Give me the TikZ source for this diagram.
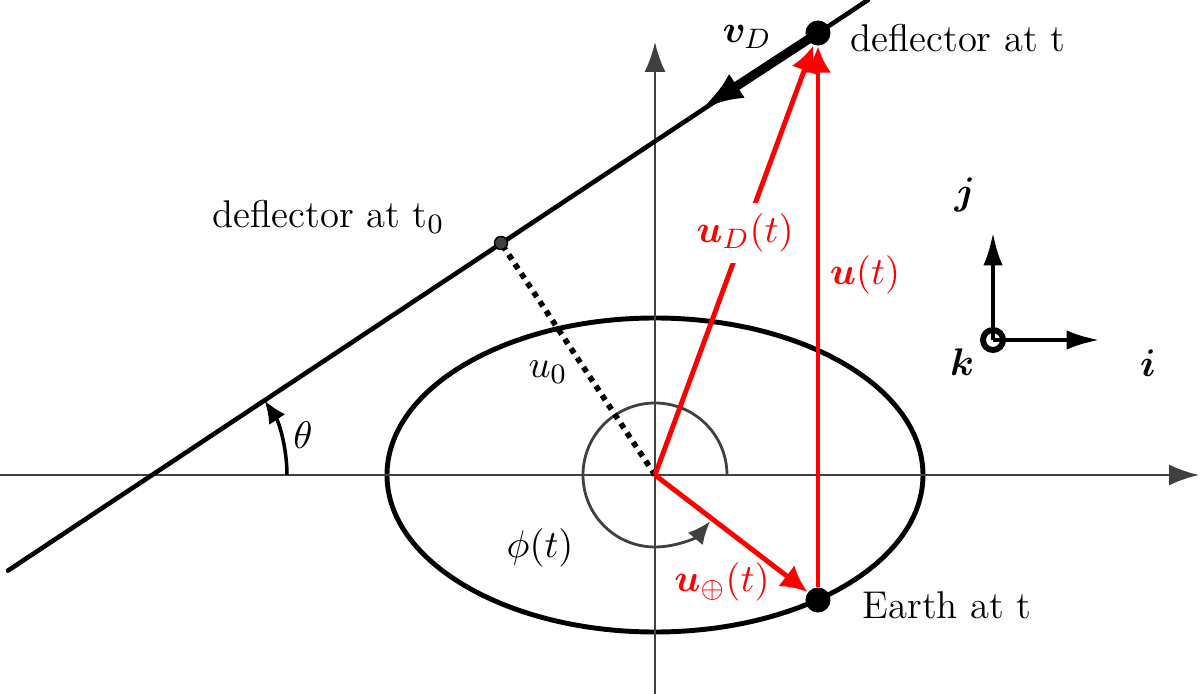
\documentclass[tikz,border=0pt]{standalone}
\usepackage{amsmath,bm}
\usetikzlibrary{arrows.meta,calc}
\definecolor{axisgray}{RGB}{64,64,64}
\definecolor{vred}{RGB}{255,0,0}
\begin{document}
\begin{tikzpicture}[x=0.01cm,y=0.01cm,
  every node/.style={font=\fontsize{11}{13}\selectfont},
  axisline/.style={axisgray,line width=0.8pt,-{Latex[length=8.5pt,width=6pt]}},
  redvec/.style={vred,line width=1.4pt,-{Latex[length=7.5pt,width=7.5pt]}},
  bigdot/.style={circle,fill=black,inner sep=0pt,minimum size=0.25cm},
  framevec/.style={black,line width=1.3pt,-{Latex[length=9.5pt,width=5.5pt]}},
  lbl/.style={inner sep=1pt}]
\useasboundingbox (-655,-219) rectangle (545,475);
% ellipse (orbit)
\draw[line width=1.4pt] (0,0) ellipse [x radius=268, y radius=157];
% axes
\coordinate (O) at (0,0);
\coordinate (xa0) at (-655,0);
\coordinate (xa1) at (544,0);
\coordinate (ya0) at (0,-219);
\coordinate (ya1) at (0,433);
\draw[axisline] (xa0) -- (xa1);
\draw[axisline] (ya0) -- (ya1);
% phi arc
\draw[axisgray,line width=0.8pt,-{Latex[length=6.5pt,width=5.5pt]}] (72,0) arc (0:320:72);
% deflector line
\coordinate (P) at (-503,0);
\coordinate (L1) at (-647,-95.6);
\coordinate (L2) at (213,475);
\coordinate (F) at (-154,232);
\coordinate (V) at (45,365);
\draw[line width=1.3pt,line cap=round] (L1) -- (L2);
% theta arc
\draw[line width=1pt,-{Latex[length=6.5pt,width=5.5pt]}] ([shift={(0:135)}]P) arc (0:33.57:135);
% dotted u0
\draw[line width=1.6pt,dash pattern=on 1.6pt off 1.6pt] (O) -- (F);
% dots
\node[bigdot] (D) at (163,442) {};
\node[bigdot] (E) at (163,-125) {};
\node[circle,fill=axisgray,draw=black,line width=0.4pt,inner sep=0pt,minimum size=0.13cm] (T0) at (F) {};
% red vectors
\draw[redvec] (O) -- (D);
\draw[redvec] (E) -- (D);
\draw[redvec] (O) -- (E);
% v_D
\draw[line width=2.6pt,-{Latex[length=12.5pt,width=8pt]}] (D.center) -- (V);
% labels
\node[anchor=base west,inner sep=0pt] (lD) at (195,423) {deflector at t};
\node[anchor=base east,inner sep=0pt] (lT0) at (-210,247) {deflector at t$_0$};
\node[anchor=base west,inner sep=0pt] (lE) at (207,-143) {Earth at t};
\node[lbl] (lu0) at (-107,103) {$u_0$};
\node[lbl] (lth) at (-352,40) {$\theta$};
\node[lbl] (lphi) at (-115,-73) {$\phi(t)$};
\node[lbl] (lvD) at (92,438) {$\bm{v}_D$};
\node[lbl,fill=white,text=vred,inner sep=3pt] (luD) at (90,242) {$\bm{u}_D(t)$};
\node[lbl,text=vred] (lu) at (210,200) {$\bm{u}(t)$};
\node[lbl,text=vred] (luE) at (67,-107) {$\bm{u}_{\oplus}(t)$};
% frame
\coordinate (C) at (338,135);
\coordinate (Cj) at (338,243);
\coordinate (Ci) at (445,135);
\draw[framevec] (C) -- (Cj);
\draw[framevec] (C) -- (Ci);
\draw[line width=1.7pt] (C) circle [radius=10];
\node[lbl] (lj) at (310,280) {$\bm{j}$};
\node[lbl] (lk) at (307,113) {$\bm{k}$};
\node[lbl] (li) at (493,112) {$\bm{i}$};
\end{tikzpicture}
\end{document}
